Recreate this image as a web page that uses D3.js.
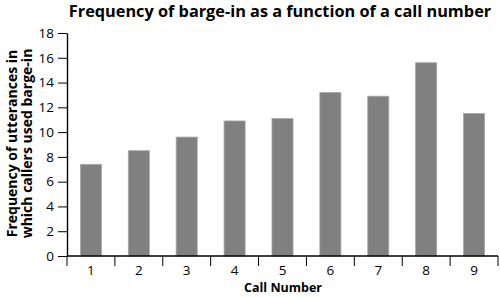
<!DOCTYPE html>
<html><head><meta charset="utf-8">
<script src="https://cdn.jsdelivr.net/npm/d3@7"></script>
<style>body{margin:0;background:#fff}svg{display:block}text{font-family:"Open Sans",sans-serif;fill:#000}</style>
</head><body><svg id="c" width="500" height="297"></svg>
<script>
const categories = ["1","2","3","4","5","6","7","8","9"];
const values = [7.4, 8.5, 9.6, 10.9, 11.1, 13.2, 12.9, 15.6, 11.5];
const yTicks = [0,2,4,6,8,10,12,14,16,18];
const title = "Frequency of barge-in as a function of a call number";
const xTitle = "Call Number";
const yTitle = ["Frequency of utterances in", "which callers used barge-in"];

const svg = d3.select("#c");
const m = {left:67, right:498, top:33, bottom:256};
const x = d3.scaleBand().domain(categories).range([m.left, m.right]).paddingInner(0.56).paddingOuter(0.28);
const xb = d3.scaleBand().domain(categories).range([m.left, m.right]);
const y = d3.scaleLinear().domain([0,18]).range([m.bottom, m.top]);

svg.append("g").selectAll("rect").data(values).join("rect")
  .attr("x",(d,i)=>x(categories[i])).attr("width",x.bandwidth())
  .attr("y",d=>y(d)).attr("height",d=>y(0)-y(d))
  .attr("fill","#808080").attr("stroke","#a8a8a8").attr("stroke-width",0.8);

// y axis
const ya = svg.append("g").attr("transform",`translate(${m.left},0)`)
  .call(d3.axisLeft(y).tickValues(yTicks).tickSize(9).tickPadding(4).tickSizeOuter(0));
ya.select(".domain").attr("stroke","#000").attr("stroke-width",1.4);
ya.selectAll(".tick line").attr("stroke","#000").attr("stroke-width",1);
ya.selectAll("text").style("font-size","13.5px").style("font-family","'Open Sans',sans-serif");

// x axis: ticks at band boundaries
const xa = svg.append("g").attr("transform",`translate(0,${m.bottom})`);
xa.append("line").attr("x1",m.left).attr("x2",m.right).attr("y1",0).attr("y2",0).attr("stroke","#000").attr("stroke-width",1.6);
const bounds = categories.map(c=>xb(c)).concat([m.right]);
xa.selectAll("line.t").data(bounds).join("line").attr("class","t")
  .attr("x1",d=>d).attr("x2",d=>d).attr("y1",0).attr("y2",10).attr("stroke","#000").attr("stroke-width",1);
xa.selectAll("text").data(categories).join("text")
  .attr("x",d=>xb(d)+xb.bandwidth()/2).attr("y",19).attr("text-anchor","middle")
  .style("font-size","13.5px").text(d=>d);

svg.append("text").attr("x",280).attr("y",17).attr("text-anchor","middle")
  .style("font-size","16.3px").style("font-weight","bold").text(title);
svg.append("text").attr("x",283).attr("y",292).attr("text-anchor","middle")
  .style("font-size","12.5px").style("font-weight","bold").text(xTitle);
const yl = svg.append("text").attr("transform","translate(0,143.5) rotate(-90)").attr("text-anchor","middle")
  .style("font-size","14px").style("font-weight","bold");
yl.selectAll("tspan").data(yTitle).join("tspan").attr("x",0).attr("y",(d,i)=>17+i*15).text(d=>d);
</script></body></html>
